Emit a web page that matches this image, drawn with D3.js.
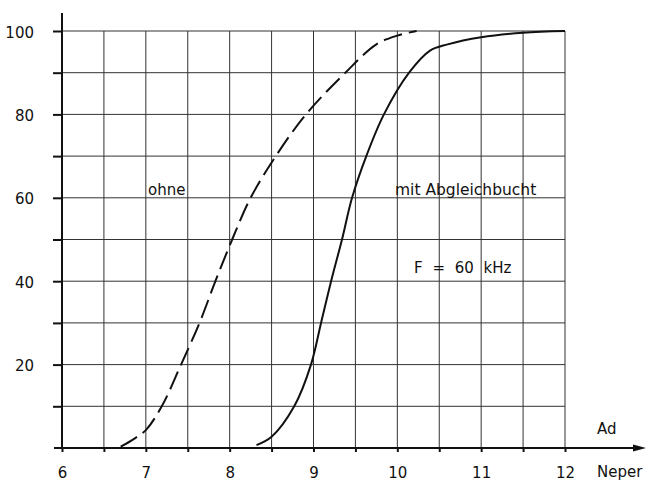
<!DOCTYPE html>
<meta charset="utf-8">
<style>
    body { margin: 0; background: #fff; }
    svg text { font-family: "DejaVu Sans", sans-serif; fill: #111; }
    .grid line { stroke: #333; stroke-width: 1; }
    .axis path, .axis line { stroke: #111; stroke-width: 2; }
    .axis text { font-size: 15px; }
    .curve { fill: none; stroke: #111; stroke-width: 2; }
</style>
<body>
<svg width="650" height="483"></svg>
<script src="https://cdnjs.cloudflare.com/ajax/libs/d3/7.8.5/d3.min.js"></script>
<script>
    // values
    var ohneX = [6.70, 6.86, 7.0, 7.19, 7.42, 7.64, 7.83, 8.03, 8.25, 8.55, 8.91, 9.38, 9.75, 10.0, 10.23];
    var ohneY = [0.3, 2.2, 4.3, 10, 20, 30, 40, 50, 60, 70, 80, 90, 96.8, 98.9, 100];
    var mitX = [8.32, 8.5, 8.77, 8.97, 9.09, 9.21, 9.34, 9.46, 9.63, 9.84, 10.14, 10.39, 10.6, 11.0, 11.5, 12];
    var mitY = [0.7, 2.7, 10, 20, 30, 40, 50, 60, 70, 80, 90, 95.3, 96.8, 98.5, 99.6, 100];
    var xTicks = [6, 6.5, 7, 7.5, 8, 8.5, 9, 9.5, 10, 10.5, 11, 11.5, 12];
    var yTicks = [10, 20, 30, 40, 50, 60, 70, 80, 90, 100];
    var yLabels = [20, 40, 60, 80, 100];

    var svg = d3.select("svg"),
        margin = { top: 31, left: 62 },
        width = 503,
        height = 417;

    var x = d3.scaleLinear().domain([6, 12]).range([0, width]);
    var y = d3.scaleLinear().domain([0, 100]).range([height, 0]);

    var g = svg.append("g")
        .attr("transform", "translate(" + margin.left + "," + margin.top + ")");

    // grid
    var grid = g.append("g").attr("class", "grid");
    grid.selectAll(".v").data(xTicks.slice(1)).enter().append("line")
        .attr("x1", function(d) { return x(d); }).attr("x2", function(d) { return x(d); })
        .attr("y1", y(0)).attr("y2", y(100));
    grid.selectAll(".h").data(yTicks).enter().append("line")
        .attr("x1", x(6)).attr("x2", x(12))
        .attr("y1", function(d) { return y(d); }).attr("y2", function(d) { return y(d); });

    // axes
    var yAxis = g.append("g").attr("class", "axis")
        .call(d3.axisLeft(y).tickValues(yTicks).tickSize(9).tickPadding(19).tickSizeOuter(0)
            .tickFormat(function(d) { return yLabels.indexOf(d) >= 0 ? d : ""; }));
    yAxis.select(".domain").remove();
    yAxis.selectAll("text").attr("dy", "0.4em");
    g.append("line")
        .attr("x1", 0).attr("x2", 0).attr("y1", -18).attr("y2", height + 1)
        .attr("stroke", "#111").attr("stroke-width", 2);

    var xAxis = g.append("g").attr("class", "axis")
        .attr("transform", "translate(0," + height + ")")
        .call(d3.axisBottom(x).tickValues(xTicks).tickSize(4).tickPadding(15).tickSizeOuter(0)
            .tickFormat(function(d) { return d % 1 === 0 ? d : ""; }));
    xAxis.select(".domain").remove();
    g.append("line")
        .attr("x1", -8).attr("x2", 574).attr("y1", height).attr("y2", height)
        .attr("stroke", "#111").attr("stroke-width", 2);
    g.append("path")
        .attr("d", "M571," + (height - 3.5) + "L584," + height + "L571," + (height + 3.5) + "Z")
        .attr("fill", "#111");

    g.append("text").attr("x", 535).attr("y", height - 14).style("font-size", "15px").text("Ad");
    g.append("text").attr("x", 535).attr("y", height + 29).style("font-size", "15px").text("Neper");

    // curves
    var line = d3.line()
        .x(function(d) { return x(d[0]); })
        .y(function(d) { return y(d[1]); })
        .curve(d3.curveCatmullRom.alpha(0.5));

    g.append("path").attr("class", "curve")
        .attr("stroke-dasharray", "19,7")
        .attr("d", line(d3.zip(ohneX, ohneY)));
    g.append("path").attr("class", "curve")
        .attr("d", line(d3.zip(mitX, mitY)));

    // labels
    g.append("text").attr("x", 86).attr("y", 164).style("font-size", "15px").text("ohne");
    g.append("text").attr("x", 333).attr("y", 164).style("font-size", "15.5px").text("mit Abgleichbucht");
    g.append("text").attr("x", 352).attr("y", 242).style("font-size", "15px")
        .style("word-spacing", "5px").text("F = 60 kHz");
</script>
</body>
